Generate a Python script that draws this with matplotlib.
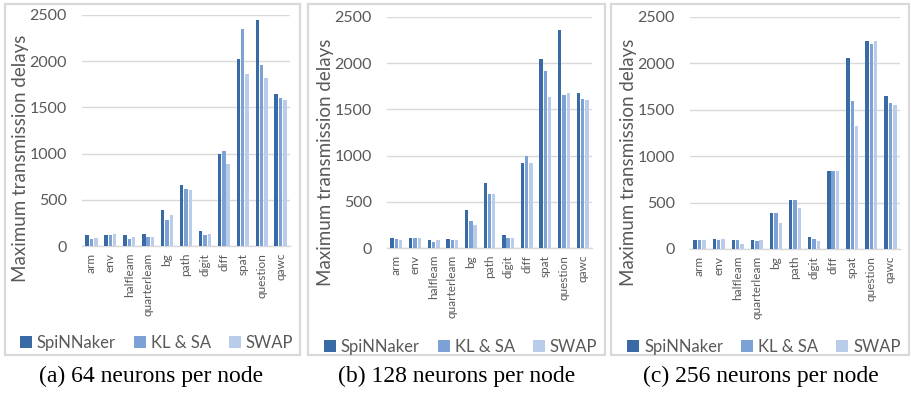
import matplotlib
matplotlib.use("Agg")
import matplotlib.pyplot as plt
import numpy as np
from matplotlib.patches import Rectangle, Patch

categories = ["arm", "env", "halfleam", "quarterleam", "bg", "path", "digit",
              "diff", "spat", "question", "qawc"]
series_names = ["SpiNNaker", "KL & SA", "SWAP"]

# (a) 64 neurons per node
a_spinnaker = [115, 115, 115, 130, 393, 657, 160, 993, 2029, 2448, 1644]
a_klsa      = [76, 115, 76, 100, 285, 614, 115, 1029, 2347, 1960, 1604]
a_swap      = [87, 130, 100, 100, 335, 603, 130, 892, 1866, 1823, 1576]

# (b) 128 neurons per node
b_spinnaker = [112, 112, 83, 97, 409, 699, 138, 920, 2043, 2362, 1682]
b_klsa      = [97, 112, 69, 83, 293, 587, 112, 1000, 1917, 1653, 1612]
b_swap      = [83, 112, 83, 83, 250, 587, 112, 920, 1639, 1682, 1598]

# (c) 256 neurons per node
c_spinnaker = [98, 112, 98, 98, 391, 533, 127, 837, 2058, 2237, 1644]
c_klsa      = [98, 98, 98, 83, 391, 533, 112, 837, 1590, 2212, 1572]
c_swap      = [98, 112, 54, 98, 279, 446, 83, 837, 1323, 2237, 1547]

y_ticks = [0, 500, 1000, 1500, 2000, 2500]
ylabel = "Maximum transmission delays"
captions = ["(a) 64 neurons per node", "(b) 128 neurons per node",
            "(c) 256 neurons per node"]

colors = ["#386AA6", "#7BA1D5", "#B9CDEA"]
grid_c = "#D9D9D9"
text_c = "#595959"

W, H = 912, 394
fig = plt.figure(figsize=(W / 100, H / 100), dpi=100)
plt.rcParams['font.family'] = ['Lato', 'DejaVu Sans']

def fx(px):
    return px / W

def fy(py):
    return 1 - py / H

panels = [
    dict(data=[a_spinnaker, a_klsa, a_swap], ax=(82, 290, 15, 246),
         box=(5, 4, 300, 355), ylab_x=21, ylab_y=158, leg_y=343, cap_x=151),
    dict(data=[b_spinnaker, b_klsa, b_swap], ax=(387, 592, 17, 248),
         box=(308, 4, 605, 355), ylab_x=326, ylab_y=162, leg_y=347, cap_x=457),
    dict(data=[c_spinnaker, c_klsa, c_swap], ax=(690, 900, 17, 249),
         box=(611, 4, 909, 355), ylab_x=629, ylab_y=162, leg_y=347, cap_x=761),
]

x = np.arange(len(categories))
bw = 0.18
offs = [-0.23, 0.0, 0.23]

for i, p in enumerate(panels):
    bx0, by0, bx1, by1 = p["box"]
    fig.patches.append(Rectangle((fx(bx0), fy(by1)), fx(bx1 - bx0), (by1 - by0) / H,
                                 transform=fig.transFigure, fill=False,
                                 edgecolor=grid_c, linewidth=1.6, zorder=0))
    l, r, t, b = p["ax"]
    ax = fig.add_axes([fx(l), fy(b), fx(r - l), (b - t) / H])
    for k, vals in enumerate(p["data"]):
        ax.bar(x + offs[k], vals, width=bw, color=colors[k], zorder=3,
               label=series_names[k])
    ax.set_ylim(0, 2500)
    ax.set_xlim(-0.5, len(categories) - 0.5)
    ax.set_yticks(y_ticks)
    ax.set_yticklabels([str(v) for v in y_ticks], fontsize=11.5, color=text_c)
    ax.set_xticks(x)
    ax.set_xticklabels(categories, rotation=90, fontsize=8.5, color=text_c)
    ax.tick_params(axis='y', length=0, pad=11)
    ax.tick_params(axis='x', length=0, pad=5)
    ax.yaxis.grid(True, color=grid_c, linewidth=1.0, zorder=0)
    ax.set_axisbelow(True)
    for s in ["left", "right", "top"]:
        ax.spines[s].set_visible(False)
    ax.spines["bottom"].set_color(grid_c)
    ax.spines["bottom"].set_linewidth(1.0)
    ax.patch.set_alpha(0)

    fig.text(fx(p["ylab_x"]), fy(p["ylab_y"]), ylabel, rotation=90,
             ha="center", va="center", fontsize=13.5, color=text_c)

    handles = [Patch(facecolor=colors[k], edgecolor="none") for k in range(3)]
    fig.legend(handles, series_names, loc="center",
               bbox_to_anchor=(fx((bx0 + bx1) / 2 + 4), fy(p["leg_y"])),
               ncol=3, frameon=False, fontsize=12, handlelength=0.7,
               handleheight=0.7, handletextpad=0.3, columnspacing=1.1,
               labelcolor=text_c, borderaxespad=0, borderpad=0)

    fig.text(fx(p["cap_x"]), fy(376), captions[i], ha="center", va="center",
             fontsize=17, family=["Liberation Serif", "DejaVu Serif"], color="black")

fig.savefig("out.png", dpi=100)
